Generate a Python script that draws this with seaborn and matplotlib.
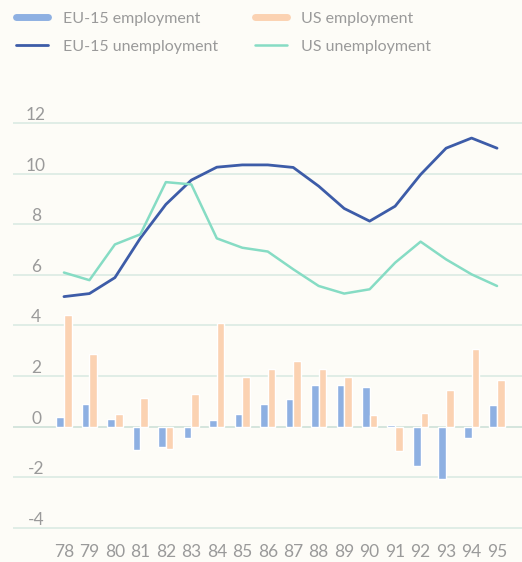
import numpy as np
import pandas as pd
import matplotlib
matplotlib.use("Agg")
import matplotlib.pyplot as plt
import matplotlib.transforms as mtransforms
from matplotlib.lines import Line2D
import seaborn as sns

years = ["78", "79", "80", "81", "82", "83", "84", "85", "86", "87", "88",
         "89", "90", "91", "92", "93", "94", "95"]
eu_employment = [0.4, 0.9, 0.3, -0.9, -0.8, -0.45, 0.26, 0.5, 0.9, 1.1, 1.67,
                 1.67, 1.57, 0.07, -1.54, -2.06, -0.46, 0.85]
us_employment = [4.4, 2.86, 0.5, 1.13, -0.88, 1.29, 4.08, 1.98, 2.3, 2.6, 2.3,
                 1.97, 0.46, -0.94, 0.56, 1.46, 3.08, 1.84]
eu_unemployment = [5.14, 5.26, 5.89, 7.45, 8.78, 9.74, 10.25, 10.34, 10.34, 10.24,
                   9.5, 8.62, 8.12, 8.71, 9.96, 11.0, 11.4, 11.0]
us_unemployment = [6.09, 5.79, 7.2, 7.6, 9.66, 9.57, 7.44, 7.07, 6.92, 6.22,
                   5.56, 5.26, 5.43, 6.48, 7.31, 6.61, 6.02, 5.56]
y_ticks = [12, 10, 8, 6, 4, 2, 0, -2, -4]

bar_names = ["EU-15 employment", "US employment"]
line_names = ["EU-15 unemployment", "US unemployment"]
colors = {"EU-15 employment": "#8eb0e2", "US employment": "#fbd2b2",
          "EU-15 unemployment": "#3d5ca8", "US unemployment": "#86dcc4"}

bars = pd.DataFrame({
    "year": years * 2,
    "value": eu_employment + us_employment,
    "series": [bar_names[0]] * len(years) + [bar_names[1]] * len(years),
})
lines = pd.DataFrame({
    "year": years * 2,
    "value": eu_unemployment + us_unemployment,
    "series": [line_names[0]] * len(years) + [line_names[1]] * len(years),
})

bg = "#fdfcf7"
txt_color = "#9a9a9a"
sns.set_theme(style="white")
plt.rcParams["font.family"] = ["Lato", "DejaVu Sans"]

fig = plt.figure(figsize=(5.22, 5.62), dpi=100, facecolor=bg)
W, H = 522, 562
ax = fig.add_axes([13 / W, (H - 538) / H, 1 - 13 / W, (538 - 95) / H])
ax.set_facecolor(bg)

# gridlines
for t in y_ticks:
    ax.axhline(t, color="#c9ded6" if t == 0 else "#d8e9e2", lw=1.1, zorder=0)

sns.barplot(data=bars, x="year", y="value", hue="series", order=years,
            hue_order=bar_names, palette=[colors[n] for n in bar_names],
            width=0.6, gap=0, saturation=1, legend=False, ax=ax, zorder=2)

sns.pointplot(data=lines, x="year", y="value", hue="series", order=years,
              hue_order=line_names, palette=[colors[n] for n in line_names],
              markers="", linestyles="-", errorbar=None, dodge=False,
              legend=False, ax=ax, linewidth=2.0, zorder=3)
for ln in ax.lines:
    if matplotlib.colors.to_hex(ln.get_color()) == colors["US unemployment"]:
        ln.set_linewidth(1.8)

ax.set_xlim(-2.0, 17.98)
ax.set_ylim(-4.39, 13.1)
ax.set_xlabel("")
ax.set_ylabel("")
ax.set_yticks([])
for s in ax.spines.values():
    s.set_visible(False)
ax.tick_params(axis="x", length=0, pad=4, labelsize=12.5, labelcolor=txt_color)

trans = mtransforms.blended_transform_factory(ax.transAxes, ax.transData)
off = mtransforms.offset_copy(trans, fig=fig, x=0, y=8, units="dots")
for t in y_ticks:
    ax.text((36 - 13) / (W - 13), t, str(t), transform=off, ha="center",
            va="center", fontsize=12.5, color=txt_color)

handles = [
    Line2D([], [], color=colors["EU-15 employment"], lw=5),
    Line2D([], [], color=colors["EU-15 unemployment"], lw=2),
    Line2D([], [], color=colors["US employment"], lw=5),
    Line2D([], [], color=colors["US unemployment"], lw=1.8),
]
labels = ["EU-15 employment", "EU-15 unemployment", "US employment", "US unemployment"]
leg = fig.legend(handles, labels, ncol=2, loc="upper left",
                 bbox_to_anchor=(2 / W, 1 + 3 / H), frameon=False,
                 handlelength=2.0, handletextpad=0.9, columnspacing=2.3,
                 labelspacing=0.88, fontsize=11.5)
for txt in leg.get_texts():
    txt.set_color(txt_color)

fig.savefig("out.png", dpi=100, facecolor=bg)
